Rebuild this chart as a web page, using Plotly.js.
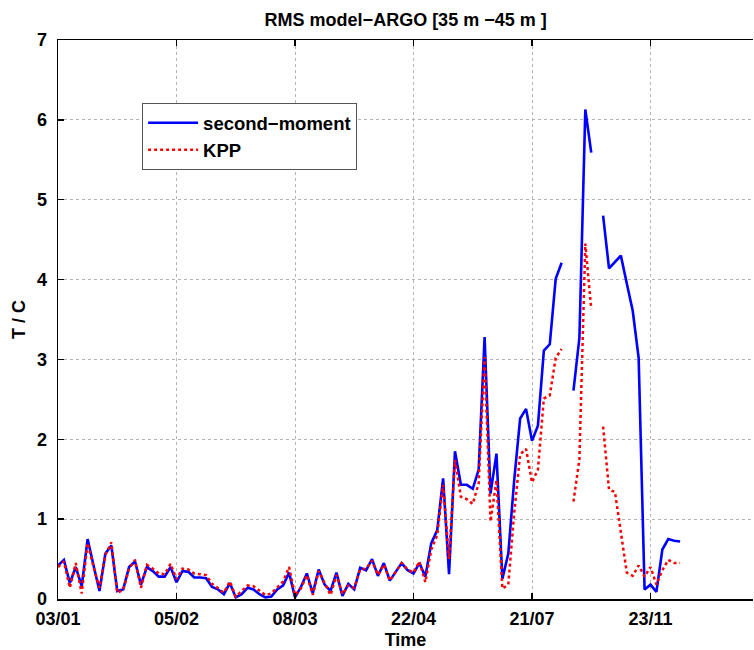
<!DOCTYPE html>
<html>
<head>
<meta charset="utf-8">
<script src="https://cdn.plot.ly/plotly-3.0.1.min.js"></script>
<style>html,body{margin:0;padding:0;background:#fff;}#chart{width:754px;height:650px;}</style>
</head>
<body>
<div id="chart"></div>
<script>
// Profile index ticks and their date labels
const tickIndex = [0, 20, 40, 60, 80, 100];
const tickLabels = ["03/01", "05/02", "08/03", "22/04", "21/07", "23/11"];

// RMS model-ARGO, second-moment closure
const secondMoment = [
  0.42, 0.49, 0.20, 0.40, 0.16, 0.75, 0.42, 0.10, 0.57, 0.67,
  0.10, 0.12, 0.40, 0.47, 0.18, 0.40, 0.35, 0.28, 0.28, 0.40,
  0.21, 0.35, 0.34, 0.27, 0.27, 0.26, 0.15, 0.12, 0.06, 0.20,
  0.02, 0.06, 0.14, 0.12, 0.06, 0.02, 0.03, 0.12, 0.17, 0.33,
  0.02, 0.15, 0.32, 0.07, 0.37, 0.18, 0.10, 0.33, 0.04, 0.19,
  0.12, 0.39, 0.36, 0.50, 0.29, 0.45, 0.23, 0.34, 0.45, 0.36,
  0.32, 0.45, 0.28, 0.70, 0.86, 1.51, 0.31, 1.85, 1.43, 1.43,
  1.38, 1.62, 3.28, 1.32, 1.82, 0.25, 0.57, 1.49, 2.26, 2.38,
  1.98, 2.17, 3.11, 3.19, 4.01, 4.21, null, 2.61, 3.27, 6.13,
  5.59, null, 4.80, 4.14, 4.22, 4.30, 3.95, 3.61, 3.02, 0.12,
  0.18, 0.09, 0.62, 0.75, 0.73, 0.72
];

// RMS model-ARGO, KPP
const kpp = [
  0.40, 0.47, 0.14, 0.45, 0.07, 0.70, 0.40, 0.14, 0.55, 0.71,
  0.08, 0.11, 0.38, 0.49, 0.14, 0.43, 0.38, 0.32, 0.31, 0.44,
  0.25, 0.38, 0.37, 0.32, 0.31, 0.30, 0.19, 0.14, 0.08, 0.22,
  0.03, 0.10, 0.17, 0.16, 0.10, 0.05, 0.07, 0.15, 0.22, 0.40,
  0.05, 0.13, 0.30, 0.05, 0.35, 0.20, 0.05, 0.30, 0.06, 0.17,
  0.14, 0.37, 0.38, 0.48, 0.30, 0.43, 0.23, 0.34, 0.45, 0.37,
  0.33, 0.47, 0.21, 0.62, 0.80, 1.43, 0.50, 1.74, 1.28, 1.25,
  1.19, 1.45, 3.03, 0.97, 1.49, 0.13, 0.18, 1.08, 1.81, 1.88,
  1.46, 1.62, 2.51, 2.55, 3.02, 3.13, null, 1.22, 1.75, 4.45,
  3.63, null, 2.16, 1.37, 1.34, 0.85, 0.33, 0.29, 0.42, 0.28,
  0.40, 0.18, 0.36, 0.49, 0.45, 0.45
];

const idx = secondMoment.map((_, i) => i);
const FONT = "Liberation Sans, Arial, Helvetica, sans-serif";

const traces = [
  {
    x: idx, y: secondMoment, type: "scatter", mode: "lines",
    name: "second\u2212moment",
    line: {color: "#0000ff", width: 2.6},
    connectgaps: false
  },
  {
    x: idx, y: kpp, type: "scatter", mode: "lines",
    name: "KPP",
    line: {color: "#ff0000", width: 2.5, dash: "dot"},
    connectgaps: false
  }
];

const layout = {
  width: 754, height: 650,
  margin: {l: 58, r: 1, t: 40, b: 51},
  paper_bgcolor: "#ffffff", plot_bgcolor: "#ffffff",
  font: {family: FONT, color: "#000000", size: 18, weight: "bold"},
  title: {
    text: "RMS model\u2212ARGO [35 m \u221245 m ]",
    font: {family: FONT, size: 18, color: "#000000", weight: "bold"},
    x: 0.538, xanchor: "center", xref: "container",
    y: 0.969, yanchor: "middle", yref: "container"
  },
  xaxis: {
    range: [0, 117.3],
    tickmode: "array", tickvals: tickIndex, ticktext: tickLabels,
    ticks: "inside", ticklen: 6, tickwidth: 1.5, tickcolor: "#000",
    showline: true, linecolor: "#000", linewidth: 1.5, mirror: "ticks",
    showgrid: true, gridcolor: "#b4b4b4", gridwidth: 1, griddash: "dot",
    zeroline: false,
    tickfont: {family: FONT, size: 18, color: "#000", weight: "bold"},
    ticklabelstandoff: 3,
    title: {text: "Time", font: {family: FONT, size: 18, color: "#000", weight: "bold"}, standoff: 7},
    automargin: false
  },
  yaxis: {
    range: [0, 7], tickmode: "array", tickvals: [0,1,2,3,4,5,6,7],
    ticks: "inside", ticklen: 6, tickwidth: 1.5, tickcolor: "#000",
    showline: true, linecolor: "#000", linewidth: 1.5, mirror: false,
    showgrid: true, gridcolor: "#b4b4b4", gridwidth: 1, griddash: "dot",
    zeroline: false,
    tickfont: {family: FONT, size: 18, color: "#000", weight: "bold"},
    ticklabelstandoff: 6,
    title: {text: "T / C", font: {family: FONT, size: 18, color: "#000", weight: "bold"}, standoff: 6},
    automargin: false
  },
  showlegend: true,
  legend: {
    x: 0.121, y: 0.887, xanchor: "left", yanchor: "top",
    xref: "paper", yref: "paper",
    bgcolor: "#ffffff", bordercolor: "#555555", borderwidth: 1,
    font: {family: FONT, size: 18.5, color: "#000", weight: "bold"},
    itemwidth: 50, tracegroupgap: 0
  }
};

Plotly.newPlot("chart", traces, layout, {displayModeBar: false, staticPlot: true});
</script>
</body>
</html>
